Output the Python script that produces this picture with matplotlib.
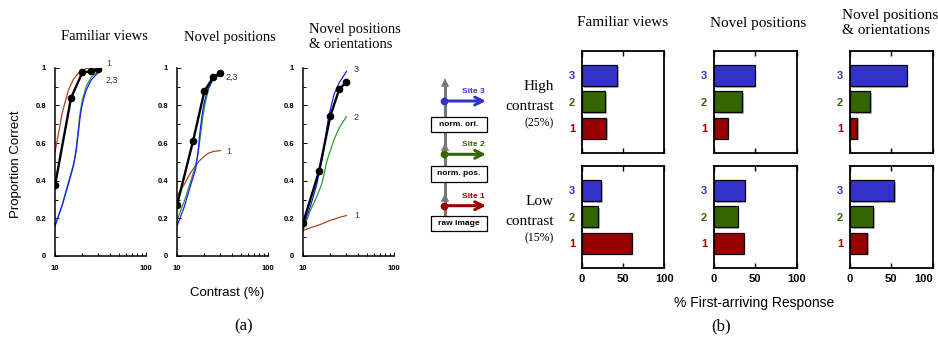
import matplotlib
matplotlib.use('Agg')
import matplotlib.pyplot as plt
import matplotlib.patheffects as pe
import matplotlib.transforms as mtransforms
from matplotlib.patches import Rectangle
from matplotlib.ticker import FixedLocator

plt.rcParams['font.family'] = 'Liberation Sans'
SERIF = 'Liberation Serif'

W, H = 938, 337

# ---- (a) proportion correct vs contrast (%)
dot_x = [10, 15, 20, 25, 30]
fam_dots = [0.375, 0.84, 0.975, 0.98, 0.995]
pos_dots = [0.27, 0.61, 0.875, 0.95, 0.97]
ori_dots = [0.175, 0.45, 0.745, 0.885, 0.925]

curve_x = [10, 12, 14, 16, 17, 18, 19, 20, 22, 25, 30]
fam_site1 = [0.55, 0.76, 0.88, 0.94, 0.955, 0.97, 0.98, 0.985, 0.995, 1.0, 1.0]
fam_site2 = [0.16, 0.27, 0.39, 0.49, 0.56, 0.67, 0.77, 0.83, 0.90, 0.95, 0.98]
fam_site3 = [0.16, 0.27, 0.38, 0.48, 0.55, 0.65, 0.75, 0.81, 0.88, 0.935, 0.975]
pos_site1 = [0.32, 0.38, 0.44, 0.48, 0.495, 0.51, 0.52, 0.53, 0.545, 0.555, 0.56]
pos_site2 = [0.19, 0.29, 0.39, 0.48, 0.54, 0.63, 0.72, 0.79, 0.88, 0.94, 0.965]
pos_site3 = [0.16, 0.26, 0.37, 0.46, 0.55, 0.67, 0.76, 0.82, 0.89, 0.945, 0.965]
ori_site1 = [0.135, 0.15, 0.16, 0.17, 0.175, 0.18, 0.185, 0.19, 0.195, 0.205, 0.215]
ori_site2 = [0.135, 0.24, 0.31, 0.38, 0.43, 0.49, 0.53, 0.56, 0.62, 0.68, 0.74]
ori_site3 = [0.155, 0.26, 0.37, 0.50, 0.57, 0.66, 0.73, 0.78, 0.86, 0.92, 0.98]

titles = ['Familiar views', 'Novel positions', 'Novel positions\n& orientations']

# ---- (b) % first-arriving response, sites 1..3
sites = [1, 2, 3]
high_fam = [29.7, 28.5, 42.7]
high_pos = [16.5, 34, 49]
high_ori = [9, 24, 68.5]
low_fam = [60.5, 19.5, 23]
low_pos = [36, 28.5, 37]
low_ori = [21, 28, 53.5]

c_red, c_green, c_blue = '#b5441b', '#2e9a2e', '#1a1aff'
s_red, s_green, s_blue = '#990000', '#336600', '#3333cc'
site_cols = [s_red, s_green, s_blue]


def rect(x0, y0, x1, y1):
    return [x0 / W, 1 - y1 / H, (x1 - x0) / W, (y1 - y0) / H]


fig = plt.figure(figsize=(W / 100, H / 100), dpi=100)

# left panels
left_x = [(55, 146), (177, 268), (303, 394)]
dots = [fam_dots, pos_dots, ori_dots]
curves = [(fam_site1, fam_site2, fam_site3),
          (pos_site1, pos_site2, pos_site3),
          (ori_site1, ori_site2, ori_site3)]
for i in range(3):
    ax = fig.add_axes(rect(left_x[i][0], 67.7, left_x[i][1], 256))
    s1, s2, s3 = curves[i]
    ax.plot(curve_x, s1, color=c_red, lw=0.9)
    ax.plot(curve_x, s2, color=c_green, lw=0.9)
    ax.plot(curve_x, s3, color=c_blue, lw=0.9)
    ax.plot(dot_x, dots[i], color='black', lw=1.7, marker='o', ms=4.5)
    ax.set_xscale('log')
    ax.set_xlim(10, 100)
    ax.set_ylim(0, 1)
    ax.xaxis.set_major_locator(FixedLocator([10, 100]))
    ax.xaxis.set_minor_locator(FixedLocator([20, 30, 40, 50, 60, 70, 80, 90]))
    ax.set_xticklabels(['10', '100'], fontsize=5.5, fontweight='bold')
    ax.xaxis.set_minor_formatter(plt.NullFormatter())
    ax.set_yticks([0, 0.2, 0.4, 0.6, 0.8, 1])
    ax.set_yticklabels(['0', '0.2', '0.4', '0.6', '0.8', '1'], fontsize=5.5, fontweight='bold')
    ax.yaxis.set_minor_locator(FixedLocator([0.1, 0.3, 0.5, 0.7, 0.9]))
    ax.tick_params(which='both', direction='in', width=0.7, pad=6.5)
    ax.tick_params(which='major', length=3)
    ax.tick_params(which='minor', length=2.5)
    ax.spines['top'].set_visible(False)
    ax.spines['right'].set_visible(False)
    for sp in ['left', 'bottom']:
        ax.spines[sp].set_linewidth(1.1)
    ax.patch.set_alpha(0)

# right panels
right_x = [(582, 664.3), (714, 796.7), (850, 932.7)]
rows = [(51, 153), (166, 268)]
bar_data = [[high_fam, high_pos, high_ori], [low_fam, low_pos, low_ori]]
shadow = [pe.SimplePatchShadow(offset=(1.2, -1.2), shadow_rgbFace='0.55', alpha=0.6), pe.Normal()]
for r in range(2):
    for c in range(3):
        ax = fig.add_axes(rect(right_x[c][0], rows[r][0], right_x[c][1], rows[r][1]))
        ax.barh(sites, bar_data[r][c], height=0.8, color=site_cols,
                edgecolor='black', lw=0.9, path_effects=shadow)
        ax.set_xlim(0, 100)
        ax.set_ylim(0.05, 3.93)
        ax.set_xticks([0, 50, 100])
        if r == 1:
            ax.set_xticklabels(['0', '50', '100'], fontsize=8, fontweight='bold')
            if c == 2:
                # last label sits at the figure edge
                last = ax.get_xticklabels()[-1]
                last.set_ha('right')
                last.set_transform(last.get_transform() +
                                   mtransforms.ScaledTranslation(4 / 72, 0, fig.dpi_scale_trans))
        else:
            ax.set_xticklabels([])
        ax.set_yticks(sites)
        ax.set_yticklabels([str(s) for s in sites], fontsize=8, fontweight='bold')
        for lab, col in zip(ax.get_yticklabels(), site_cols):
            lab.set_color(col)
        ax.tick_params(axis='x', direction='in', length=3.5, width=1, top=True, pad=4)
        ax.tick_params(axis='y', length=0, pad=5)
        for sp in ax.spines.values():
            sp.set_linewidth(1.3)

# overlay in pixel coordinates for text and the diagram
ov = fig.add_axes([0, 0, 1, 1])
ov.set_xlim(0, W)
ov.set_ylim(H, 0)
ov.axis('off')

ov.text(104, 37, titles[0], family=SERIF, fontsize=10.5, ha='center', va='center')
ov.text(230, 37, titles[1], family=SERIF, fontsize=10.5, ha='center', va='center')
ov.text(309, 36.5, titles[2], family=SERIF, fontsize=10.5, ha='left', va='center',
        linespacing=1.2)
ov.text(623, 23, titles[0], family=SERIF, fontsize=11, ha='center', va='center')
ov.text(758, 23, titles[1], family=SERIF, fontsize=11, ha='center', va='center')
ov.text(842, 23, titles[2], family=SERIF, fontsize=11, ha='left', va='center',
        linespacing=1.2)

ov.text(16.5, 164, 'Proportion Correct', fontsize=9.5, rotation=90, ha='center', va='center')
ov.text(227.5, 293, 'Contrast (%)', fontsize=9.5, ha='center', va='center')
ov.text(244, 326, '(a)', family=SERIF, fontsize=12, ha='center', va='center')
ov.text(754, 303, '% First-arriving Response', fontsize=10, ha='center', va='center')
ov.text(721, 326, '(b)', family=SERIF, fontsize=12, ha='center', va='center')

# curve labels
lab_col = '#333333'
ov.text(106, 64, '1', fontsize=6.5, color=lab_col, va='center')
ov.text(106, 80, '2,3', fontsize=6.5, color=lab_col, va='center')
ov.text(226, 77, '2,3', fontsize=6.5, color=lab_col, va='center')
ov.text(226, 152, '1', fontsize=6.5, color=lab_col, va='center')
ov.text(354, 69, '3', fontsize=6.5, color=lab_col, va='center')
ov.text(354, 117, '2', fontsize=6.5, color=lab_col, va='center')
ov.text(354, 216, '1', fontsize=6.5, color=lab_col, va='center')

# row labels
for y0, word, pct in [(86.7, 'High', '(25%)'), (201.7, 'Low', '(15%)')]:
    ov.text(554, y0, word, family=SERIF, fontsize=11, ha='right', va='center')
    ov.text(554, y0 + 20, 'contrast', family=SERIF, fontsize=11, ha='right', va='center')
    ov.text(554, y0 + 37, pct, family=SERIF, fontsize=8.5, ha='right', va='center')

# processing diagram
gray = '#777777'
gx = 445
ov.plot([gx, gx], [224, 87], color=gray, lw=2.2, zorder=1)
for tip in [78.3, 142.7, 193.3]:
    ov.annotate('', xy=(gx, tip), xytext=(gx, tip + 8),
                arrowprops=dict(arrowstyle='-|>', color=gray, lw=0.5,
                                mutation_scale=13, shrinkA=0, shrinkB=0), zorder=5)
boxes = [(215.7, 'raw image'), (166, 'norm. pos.'), (116.7, 'norm. ori.')]
for top, txt in boxes:
    ov.add_patch(Rectangle((430.7, top), 56.6, 15.5, fc='white', ec='black', lw=0.9, zorder=3))
    ov.text(459, top + 7.9, txt, fontsize=6, fontweight='bold', ha='center', va='center', zorder=4)
site_y = [205.7, 154.3, 101]
for k, (yy, col) in enumerate(zip(site_y, site_cols)):
    ov.annotate('', xy=(486, yy), xytext=(444, yy),
                arrowprops=dict(arrowstyle='->', color=col, lw=2.2,
                                mutation_scale=14, shrinkA=0, shrinkB=0), zorder=2)
    ov.plot(444, yy, 'o', color=col, ms=4.5, zorder=2)
    ov.text(473, yy - 9.5, 'Site %d' % (k + 1), color=col, fontsize=6,
            fontweight='bold', ha='center', va='center')

fig.savefig('out.png', dpi=100)
